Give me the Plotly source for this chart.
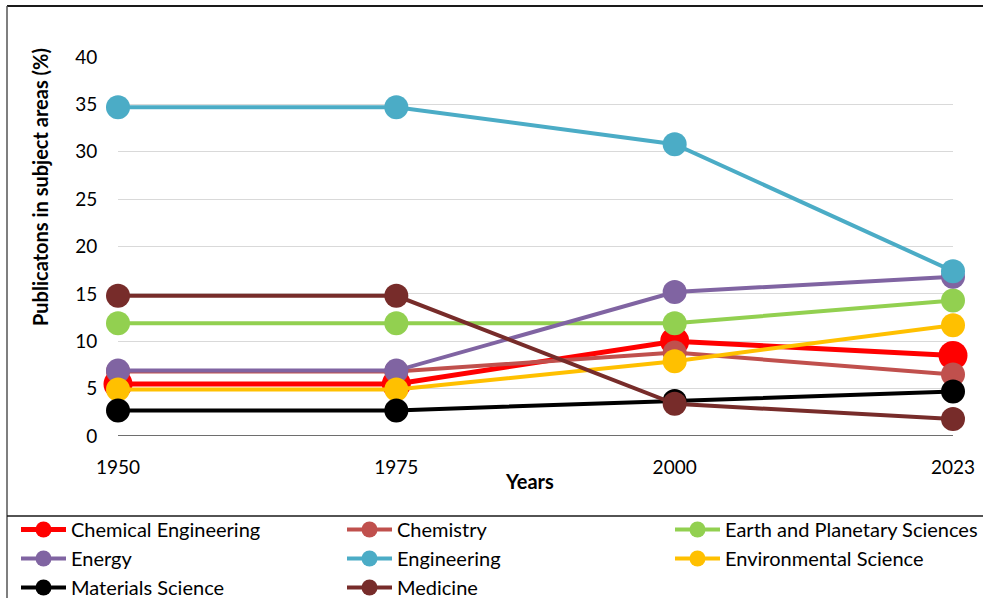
import plotly.graph_objects as go

# Share of publications by subject area (%)
years = ["1950", "1975", "2000", "2023"]

chemical_engineering = [5.5, 5.5, 10.0, 8.5]
chemistry = [6.8, 6.8, 8.8, 6.5]
earth_planetary = [11.9, 11.9, 11.9, 14.3]
energy = [6.9, 6.9, 15.2, 16.8]
engineering = [34.7, 34.7, 30.8, 17.4]
environmental = [4.9, 4.9, 7.9, 11.7]
materials = [2.7, 2.7, 3.7, 4.7]
medicine = [14.8, 14.8, 3.4, 1.8]

# name, values, colour, marker size, line width, legend column
series = [
    ("Chemical Engineering", chemical_engineering, "#FF0000", 29, 5, "legend"),
    ("Chemistry", chemistry, "#C0504D", 24, 4, "legend2"),
    ("Earth and Planetary Sciences", earth_planetary, "#92D050", 24, 4, "legend3"),
    ("Energy", energy, "#8064A2", 24, 4, "legend"),
    ("Engineering", engineering, "#4BACC6", 24, 4, "legend2"),
    ("Environmental Science", environmental, "#FFC000", 24, 4, "legend3"),
    ("Materials Science", materials, "#000000", 24, 4, "legend"),
    ("Medicine", medicine, "#772C2A", 24, 4, "legend2"),
]

FONT = "Lato"

fig = go.Figure()
for name, vals, color, msize, lw, leg in series:
    fig.add_trace(go.Scatter(
        x=years, y=vals, name=name, mode="lines+markers",
        line=dict(color=color, width=lw),
        marker=dict(color=color, size=msize),
        cliponaxis=False, legend=leg,
    ))

# plot area: x 118..953 px, y 57..436 px
L, R, T, B = 118, 30, 57, 162
W, H = 983, 598
pw, ph = W - L - R, H - T - B


def px(x):
    return (x - L) / pw


def py(y):
    return (H - B - y) / ph


def legend_column(x_left):
    return dict(
        orientation="v", x=px(x_left), y=py(510), xanchor="left", yanchor="top",
        font=dict(family=FONT, size=20, color="#000000"),
        itemwidth=45, tracegroupgap=0, bgcolor="rgba(0,0,0,0)",
    )


fig.update_layout(
    width=W, height=H,
    margin=dict(l=L, r=R, t=T, b=B, pad=0, autoexpand=False),
    paper_bgcolor="white", plot_bgcolor="white",
    font=dict(family=FONT, size=19, color="#000000"),
    showlegend=True,
    legend=legend_column(16),
    legend2=legend_column(342),
    legend3=legend_column(670),
    xaxis=dict(
        type="category", range=[0, 3], showgrid=False, zeroline=False,
        showline=False, ticks="outside", ticklen=14, tickcolor="rgba(0,0,0,0)",
        tickfont=dict(family=FONT, size=19, color="#000000"),
    ),
    yaxis=dict(
        range=[0, 40], dtick=5, showgrid=True, gridcolor="#D9D9D9", gridwidth=1,
        zeroline=False, showline=False, ticks="outside", ticklen=16,
        tickcolor="rgba(0,0,0,0)",
        tickfont=dict(family=FONT, size=19, color="#000000"),
    ),
    shapes=[
        # horizontal axis baseline
        dict(type="line", xref="paper", yref="y", x0=0, x1=1, y0=0, y1=0,
             line=dict(color="#6E6E6E", width=2), layer="below"),
        # outer frame and legend separator
        dict(type="line", xref="paper", yref="paper", x0=px(7), x1=px(990),
             y0=py(6), y1=py(6), line=dict(color="#1A1A1A", width=2)),
        dict(type="line", xref="paper", yref="paper", x0=px(7), x1=px(7),
             y0=py(6), y1=py(605), line=dict(color="#555555", width=1.5)),
        dict(type="line", xref="paper", yref="paper", x0=px(7), x1=px(990),
             y0=py(516), y1=py(516), line=dict(color="#1A1A1A", width=1.5)),
    ],
    annotations=[
        dict(text="<b>Publicatons in subject areas (%)</b>", xref="paper", yref="paper",
             x=px(40), y=py(187), xanchor="center", yanchor="middle", textangle=-90,
             showarrow=False, font=dict(family=FONT, size=20, color="#000000")),
        dict(text="<b>Years</b>", xref="paper", yref="paper",
             x=px(529), y=py(481), xanchor="center", yanchor="middle",
             showarrow=False, font=dict(family=FONT, size=20, color="#000000")),
    ],
)

fig.write_html("out.html")
